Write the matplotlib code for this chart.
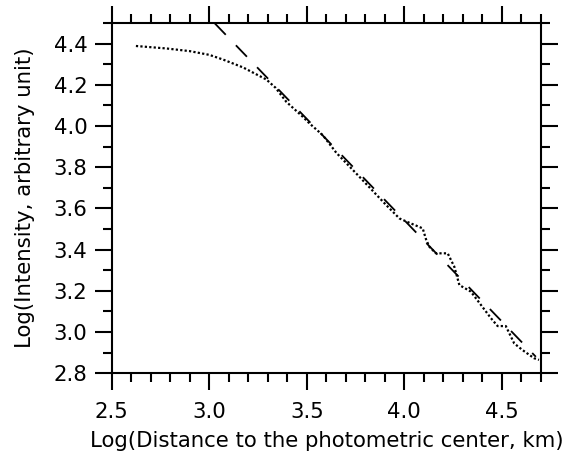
import numpy as np
import matplotlib
matplotlib.use("Agg")
import matplotlib.pyplot as plt
from matplotlib.ticker import MultipleLocator, FormatStrFormatter

# observed brightness profile (log-log)
profile_x = [2.624, 2.78, 2.90, 3.00, 3.071, 3.173, 3.293, 3.34, 3.395, 3.48, 3.514,
             3.582, 3.651, 3.77, 3.907, 3.975, 4.026, 4.094, 4.111, 4.128, 4.162,
             4.222, 4.256, 4.282, 4.341, 4.393, 4.444, 4.478, 4.52, 4.563, 4.605,
             4.665, 4.69]
profile_y = [4.388, 4.376, 4.363, 4.345, 4.322, 4.284, 4.225, 4.185, 4.117, 4.044, 4.012,
             3.955, 3.87, 3.753, 3.616, 3.551, 3.53, 3.503, 3.45, 3.414, 3.382,
             3.382, 3.317, 3.228, 3.196, 3.131, 3.067, 3.029, 3.029, 2.945, 2.913,
             2.873, 2.865]

# 1/rho fit
fit_x = [3.028, 4.674]
fit_y = [4.498, 2.88]

plt.rcParams['font.family'] = 'DejaVu Sans'
plt.rcParams['font.size'] = 15.3

fig = plt.figure(figsize=(5.7, 4.58), dpi=100)
ax = fig.add_subplot(111)
fig.subplots_adjust(left=0.196, right=0.949, bottom=0.185, top=0.950)

ax.plot(profile_x, profile_y, color='black', lw=1.6, linestyle=(0, (1, 1)))
ax.plot(fit_x, fit_y, color='black', lw=1.3, dashes=(8.8, 8.1))

ax.set_xlim(2.5, 4.7)
ax.set_ylim(2.8, 4.5)
ax.xaxis.set_major_locator(MultipleLocator(0.5))
ax.xaxis.set_minor_locator(MultipleLocator(0.1))
ax.yaxis.set_major_locator(MultipleLocator(0.2))
ax.yaxis.set_minor_locator(MultipleLocator(0.1))
ax.xaxis.set_major_formatter(FormatStrFormatter('%.1f'))
ax.yaxis.set_major_formatter(FormatStrFormatter('%.1f'))

for s in ax.spines.values():
    s.set_linewidth(1.5)
ax.tick_params(which='both', direction='out', top=True, right=True, width=1.5)
ax.tick_params(which='major', length=12.5)
ax.tick_params(which='minor', length=6.5)
ax.tick_params(axis='x', which='major', pad=8)
ax.tick_params(axis='y', which='major', pad=5)

ax.set_xlabel('Log(Distance to the photometric center, km)', labelpad=7)
ax.set_ylabel('Log(Intensity, arbitrary unit)', labelpad=13)

fig.savefig('out.png', dpi=100)
